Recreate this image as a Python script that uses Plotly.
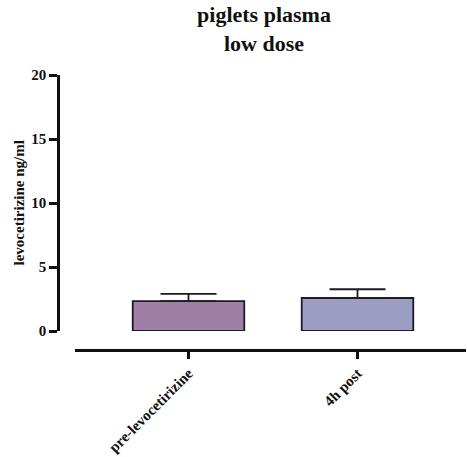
import plotly.graph_objects as go

categories = ["pre-levocetirizine", "4h post"]
means = [2.34, 2.58]
errors_up = [0.56, 0.68]
bar_colors = ["#a07fa6", "#9b9dc3"]

W, H = 467, 457
FONT = "Liberation Serif, Times New Roman, serif"

def fx(px):
    return px / W

def fy(py):
    return 1 - py / H

fig = go.Figure()
fig.add_trace(go.Bar(
    x=categories,
    y=means,
    width=0.66,
    marker=dict(color=bar_colors, line=dict(color="#1e1a24", width=1.8)),
    error_y=dict(type="data", array=errors_up, arrayminus=[0, 0], symmetric=False,
                 color="#1e1a24", thickness=1.8, width=28),
))

fig.update_layout(
    width=W, height=H,
    margin=dict(l=0, r=0, t=0, b=0, autoexpand=False),
    plot_bgcolor="white", paper_bgcolor="white",
    showlegend=False,
    font=dict(family=FONT, color="#111111"),
    title=dict(text="<b>piglets plasma<br>low dose</b>", x=fx(264), xanchor="center",
               y=fy(22), yanchor="top", yref="container",
               font=dict(family=FONT, size=22, color="#111111")),
    xaxis=dict(
        domain=[fx(75), fx(466)],
        range=[-0.6716, 1.642],
        anchor="free", position=fy(350),
        automargin=False,
        showline=True, linecolor="#111111", linewidth=2.5,
        ticks="outside", ticklen=7, tickwidth=2.5, tickcolor="#111111",
        tickangle=-45,
        tickfont=dict(family=FONT, size=15, color="#111111", weight="bold"),
        showgrid=False, zeroline=False,
    ),
    yaxis=dict(
        domain=[fy(331), fy(75)],
        range=[0, 20],
        anchor="free", position=fx(58),
        automargin=False,
        tickvals=[0, 5, 10, 15, 20],
        showline=True, linecolor="#111111", linewidth=2.5,
        ticks="outside", ticklen=8, tickwidth=2.5, tickcolor="#111111",
        tickfont=dict(family=FONT, size=15, color="#111111", weight="bold"),
        showgrid=False, zeroline=False,
    ),
    annotations=[dict(
        text="<b>levocetirizine ng/ml</b>", textangle=-90,
        x=fx(18.5), y=(fy(331) + fy(75)) / 2, xref="paper", yref="paper",
        xanchor="center", yanchor="middle", showarrow=False,
        font=dict(family=FONT, size=15, color="#111111"),
    )],
)

fig.write_html("out.html")
